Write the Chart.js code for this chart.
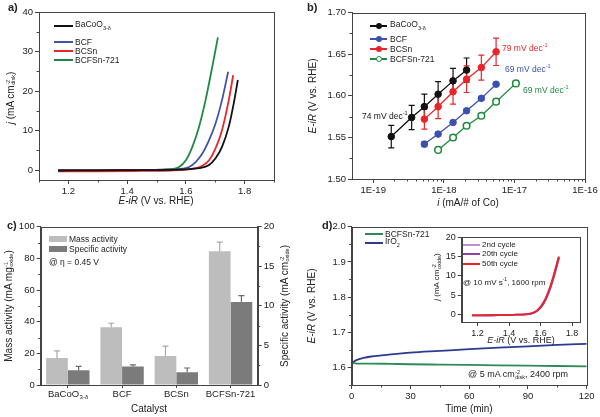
<!DOCTYPE html>
<html>
<head>
<meta charset="utf-8">
<script src="https://cdn.jsdelivr.net/npm/chart.js@4.4.0/dist/chart.umd.min.js"></script>
<style>
body { margin: 0; background: #fff; }
#wrap { position: relative; width: 600px; height: 417px; overflow: hidden; font-family: 'Liberation Sans', Arial, sans-serif; color: #222; }
canvas { position: absolute; }
.t { position: absolute; white-space: nowrap; font-size: 10px; line-height: 1; }
.rot { transform: translate(-50%, -50%) rotate(-90deg); }
.ctr { transform: translate(-50%, -50%); }
.lab { position: absolute; font-weight: bold; font-size: 11px; }
.ss { display: inline-flex; flex-direction: column; font-size: 5.5px; line-height: 0.95; vertical-align: middle; margin-left: 0.5px; }
.leg { position: absolute; font-size: 8.5px; white-space: nowrap; transform: translateY(-50%); line-height: 1; }
.ln { position: absolute; height: 0; border-top: 2px solid; }
.dot { position: absolute; width: 6px; height: 6px; border-radius: 50%; transform: translate(-50%, -50%); box-sizing: border-box; }
.box { position: absolute; }
</style>
</head>
<body>
<div id="wrap">
  <canvas id="ca" width="300" height="208" style="left:0;top:0"></canvas>
  <canvas id="cb" width="300" height="208" style="left:300px;top:0"></canvas>
  <canvas id="cc" width="300" height="209" style="left:0;top:208px"></canvas>
  <canvas id="cd" width="300" height="209" style="left:300px;top:208px"></canvas>
  <canvas id="ci" width="165" height="106" style="left:425px;top:230px"></canvas>

  <!-- panel a -->
  <div class="lab" style="left:8px;top:1px">a)</div>
  <div class="t rot" style="left:11px;top:98px"><i>j</i> (mA cm<span class="ss"><span>-2</span><span>disk</span></span>)</div>
  <div class="t ctr" style="left:156px;top:201px"><i>E-iR</i> (V vs. RHE)</div>
  <div class="ln" style="left:54px;top:25px;width:19px;border-color:#111"></div>
  <div class="leg" style="left:75px;top:26px">BaCoO<sub style="font-size:5.5px">3-δ</sub></div>
  <div class="ln" style="left:54px;top:41px;width:19px;border-color:#4055a8"></div>
  <div class="leg" style="left:75px;top:42px">BCF</div>
  <div class="ln" style="left:54px;top:50px;width:19px;border-color:#e8282b"></div>
  <div class="leg" style="left:75px;top:51px">BCSn</div>
  <div class="ln" style="left:54px;top:59px;width:19px;border-color:#1f8a45"></div>
  <div class="leg" style="left:75px;top:60px">BCFSn-721</div>

  <!-- panel b -->
  <div class="lab" style="left:307px;top:1px">b)</div>
  <div class="t rot" style="left:313px;top:96px"><i>E-iR</i> (V vs. RHE)</div>
  <div class="t ctr" style="left:468px;top:203px"><i>i</i> (mA/# of Co)</div>
  <div class="ln" style="left:370px;top:25px;width:17px;border-color:#111"></div>
  <div class="dot" style="left:378.5px;top:26px;background:#111"></div>
  <div class="leg" style="left:390px;top:26px">BaCoO<sub style="font-size:5.5px">3-δ</sub></div>
  <div class="ln" style="left:370px;top:38px;width:17px;border-color:#3c50b0"></div>
  <div class="dot" style="left:378.5px;top:39px;background:#3c50b0"></div>
  <div class="leg" style="left:390px;top:39.3px">BCF</div>
  <div class="ln" style="left:370px;top:48px;width:17px;border-color:#e8262a"></div>
  <div class="dot" style="left:378.5px;top:49px;background:#e8262a"></div>
  <div class="leg" style="left:390px;top:49.3px">BCSn</div>
  <div class="ln" style="left:370px;top:58px;width:17px;border-color:#1e8a3e"></div>
  <div class="dot" style="left:378.5px;top:59px;background:#fff;border:1.5px solid #1e8a3e"></div>
  <div class="leg" style="left:390px;top:59.3px">BCFSn-721</div>
  <div class="leg" style="left:362px;top:116px;color:#111">74 mV dec<sup style="font-size:5.5px">-1</sup></div>
  <div class="leg" style="left:502px;top:48px;color:#e8262a">79 mV dec<sup style="font-size:5.5px">-1</sup></div>
  <div class="leg" style="left:505px;top:69px;color:#3c50b0">69 mV dec<sup style="font-size:5.5px">-1</sup></div>
  <div class="leg" style="left:523px;top:90px;color:#1e8a3e">69 mV dec<sup style="font-size:5.5px">-1</sup></div>

  <!-- panel c -->
  <div class="lab" style="left:7px;top:219px">c)</div>
  <div class="t rot" style="left:9px;top:306px">Mass activity (mA mg<span class="ss"><span>-1</span><span>oxide</span></span>)</div>
  <div class="t rot" style="left:285px;top:306px">Specific activity (mA cm<span class="ss"><span>-2</span><span>oxide</span></span>)</div>
  <div class="t ctr" style="left:149px;top:409px">Catalyst</div>
  <div class="box" style="left:49px;top:236px;width:18px;height:6px;background:#bdbdbd"></div>
  <div class="leg" style="left:69px;top:239.3px">Mass activity</div>
  <div class="box" style="left:49px;top:246px;width:18px;height:6px;background:#7b7b7b"></div>
  <div class="leg" style="left:69px;top:249px">Specific activity</div>
  <div class="leg" style="left:49px;top:262px">@ η = 0.45 V</div>

  <!-- panel d -->
  <div class="lab" style="left:322px;top:219px">d)</div>
  <div class="t rot" style="left:312px;top:306px"><i>E-iR</i> (V vs. RHE)</div>
  <div class="t ctr" style="left:469px;top:409px">Time (min)</div>
  <div class="ln" style="left:365px;top:233px;width:18px;border-color:#2f8a55"></div>
  <div class="leg" style="left:385px;top:234px">BCFSn-721</div>
  <div class="ln" style="left:365px;top:242px;width:18px;border-color:#2c3a92"></div>
  <div class="leg" style="left:385px;top:243.3px">IrO<sub style="font-size:5.5px">2</sub></div>
  <div class="leg" style="left:468px;top:375px;font-size:9px">@ 5 mA cm<span class="ss"><span>-2</span><span>disk</span></span>, 2400 rpm</div>

  <!-- inset -->
  <div class="t rot" style="left:437px;top:277px;font-size:8px"><i>j</i> (mA cm<span class="ss"><span>-2</span><span>oxide</span></span>)</div>
  <div class="t ctr" style="left:521px;top:340px;font-size:9px"><i>E-iR</i> (V vs. RHE)</div>
  <div class="ln" style="left:463px;top:244px;width:17px;border-color:#c58fcf"></div>
  <div class="leg" style="left:482px;top:245px;font-size:8px">2nd cycle</div>
  <div class="ln" style="left:463px;top:253px;width:17px;border-color:#8b44a8"></div>
  <div class="leg" style="left:482px;top:254.3px;font-size:8px">20th cycle</div>
  <div class="ln" style="left:463px;top:263px;width:17px;border-color:#e8262a"></div>
  <div class="leg" style="left:482px;top:263.7px;font-size:8px">50th cycle</div>
  <div class="leg" style="left:463px;top:281.7px;font-size:8px">@ 10 mV s<sup style="font-size:5px">-1</sup>, 1600 rpm</div>
</div>

<script>
// ---- panel a: LSV curves ----
const aBaE = [1.165, 1.30, 1.45, 1.55, 1.60, 1.645, 1.679, 1.701, 1.723, 1.746, 1.763, 1.777];
const aBaJ = [-0.1, -0.05, 0.0, 0.05, 0.2, 0.5, 1.3, 3.0, 5.9, 11.0, 16.9, 22.8];
const aBcfE = [1.165, 1.30, 1.45, 1.53, 1.565, 1.589, 1.611, 1.634, 1.656, 1.679, 1.701, 1.723, 1.744];
const aBcfJ = [-0.1, -0.05, 0.0, 0.1, 0.2, 0.35, 0.8, 2.1, 4.2, 7.6, 11.8, 17.7, 24.9];
const aBcsnE = [1.165, 1.30, 1.45, 1.55, 1.60, 1.634, 1.656, 1.679, 1.701, 1.723, 1.746, 1.761];
const aBcsnJ = [-0.3, -0.3, -0.2, -0.1, 0.1, 0.5, 1.1, 2.5, 5.5, 10.1, 17.7, 24.0];
const aBcfsnE = [1.165, 1.30, 1.45, 1.52, 1.555, 1.577, 1.600, 1.622, 1.645, 1.667, 1.690, 1.709];
const aBcfsnJ = [0.0, 0.0, 0.05, 0.15, 0.3, 0.8, 2.5, 5.9, 11.0, 17.7, 26.2, 33.6];
const aXTicks = [1.2, 1.4, 1.6, 1.8];
const aXMinor = [1.1, 1.3, 1.5, 1.7, 1.9];
const aYTicks = [0, 10, 20, 30, 40];
const aYMinor = [5, 15, 25, 35];

// ---- panel b: Tafel plots ----
const bBaI = [1.8e-19, 3.5e-19, 5.3e-19, 8.3e-19, 1.35e-18, 2.1e-18];
const bBaE = [1.551, 1.574, 1.587, 1.602, 1.618, 1.631];
const bBaErr = [0.0135, 0.0145, 0.015, 0.015, 0.015, 0.0145];
const bBcfI = [5.3e-19, 8.3e-19, 1.35e-18, 2.1e-18, 3.4e-18, 5.5e-18];
const bBcfE = [1.542, 1.554, 1.568, 1.582, 1.597, 1.614];
const bBcfErr = [0.003, 0.002, 0.002, 0.002, 0.002, 0.002];
const bBcsnI = [5.3e-19, 8.3e-19, 1.35e-18, 2.1e-18, 3.4e-18, 5.5e-18];
const bBcsnE = [1.572, 1.587, 1.605, 1.620, 1.634, 1.653];
const bBcsnErr = [0.012, 0.0145, 0.015, 0.016, 0.015, 0.0165];
const bBcfsnI = [8.3e-19, 1.35e-18, 2.1e-18, 3.4e-18, 5.5e-18, 1.05e-17];
const bBcfsnE = [1.535, 1.550, 1.564, 1.576, 1.593, 1.615];
const bBcfsnErr = [0.001, 0.002, 0.002, 0.002, 0.003, 0.003];
const bXTicks = [1e-19, 1e-18, 1e-17, 1e-16];
const bXMinor = [2e-19, 3e-19, 4e-19, 5e-19, 6e-19, 7e-19, 8e-19, 9e-19,
                 2e-18, 3e-18, 4e-18, 5e-18, 6e-18, 7e-18, 8e-18, 9e-18,
                 2e-17, 3e-17, 4e-17, 5e-17, 6e-17, 7e-17, 8e-17, 9e-17];
const bYTicks = [1.50, 1.55, 1.60, 1.65, 1.70];
const bYMinor = [1.525, 1.575, 1.625, 1.675];

// ---- panel c: activities ----
const cCats = ['BaCoO', 'BCF', 'BCSn', 'BCFSn-721'];
const cCatSubs = ['3-δ', '', '', ''];
const cMass = [17, 36.5, 18.3, 84.5];
const cMassErr = [4.5, 2.5, 6.3, 5.8];
const cSpec = [1.85, 2.35, 1.6, 10.5];
const cSpecErr = [0.5, 0.2, 0.55, 0.8];
const cYTicks = [0, 20, 40, 60, 80, 100];
const cYMinor = [10, 30, 50, 70, 90];
const cY2Ticks = [0, 5, 10, 15, 20];
const cY2Minor = [2.5, 7.5, 12.5, 17.5];

// ---- panel d: chronopotentiometry ----
const dTime = [0, 1, 3, 6, 10, 20, 30, 45, 60, 75, 90, 105, 120];
const dIrO2 = [1.611, 1.616, 1.622, 1.627, 1.631, 1.637, 1.642, 1.647, 1.652, 1.656, 1.660, 1.664, 1.667];
const dBcfsn = [1.612, 1.612, 1.611, 1.611, 1.611, 1.610, 1.609, 1.608, 1.607, 1.606, 1.605, 1.604, 1.603];
const dXTicks = [0, 30, 60, 90, 120];
const dXMinor = [15, 45, 75, 105];
const dYTicks = [1.6, 1.7, 1.8, 1.9, 2.0];
const dYMinor = [1.55, 1.65, 1.75, 1.85, 1.95];

// ---- inset: cycling LSV ----
const iE2 = [1.165, 1.30, 1.45, 1.54, 1.58, 1.62, 1.66, 1.69, 1.717];
const iJ2 = [-0.3, -0.25, -0.1, 0.2, 1.0, 3.0, 6.8, 10.8, 15.0];
const iE20 = [1.165, 1.30, 1.45, 1.54, 1.58, 1.62, 1.66, 1.69, 1.718];
const iJ20 = [-0.3, -0.25, -0.1, 0.2, 0.9, 2.8, 6.5, 10.5, 14.8];
const iE50 = [1.165, 1.30, 1.45, 1.54, 1.58, 1.62, 1.66, 1.69, 1.715];
const iJ50 = [-0.3, -0.25, -0.1, 0.25, 1.1, 3.2, 7.1, 11.2, 15.0];
const iXTicks = [1.2, 1.4, 1.6, 1.8];
const iYTicks = [0, 5, 10, 15, 20];

const FAM = "'Liberation Sans', Arial, sans-serif";
Chart.defaults.font.family = FAM;
Chart.defaults.font.size = 9.5;
Chart.defaults.color = '#222';

const pts = (xs, ys) => xs.map((x, i) => ({ x: x, y: ys[i] }));

// box frame + short minor ticks
function frame(minor) {
  return {
    id: 'frame',
    afterDraw(chart) {
      const ctx = chart.ctx, a = chart.chartArea;
      ctx.save();
      ctx.strokeStyle = '#444';
      ctx.lineWidth = 1;
      ctx.strokeRect(Math.round(a.left) + 0.5, Math.round(a.top) + 0.5,
        Math.round(a.right - a.left), Math.round(a.bottom - a.top));
      minor.forEach(m => {
        const s = chart.scales[m.id];
        m.values.forEach(v => {
          const p = Math.round(s.getPixelForValue(v)) + 0.5;
          ctx.beginPath();
          if (s.position === 'bottom') { ctx.moveTo(p, a.bottom); ctx.lineTo(p, a.bottom + 2.5); }
          else if (s.position === 'left') { ctx.moveTo(a.left, p); ctx.lineTo(a.left - 2.5, p); }
          else { ctx.moveTo(a.right, p); ctx.lineTo(a.right + 2.5, p); }
          ctx.stroke();
        });
      });
      ctx.restore();
    }
  };
}

// error bars from the named error arrays
function errorBars(sets, cap, upOnly, hook) {
  const p = { id: 'errbars' };
  p[hook] = function (chart) {
    const ctx = chart.ctx;
    sets.forEach(st => {
      const meta = chart.getDatasetMeta(st.index);
      const ys = chart.scales[meta.yAxisID];
      const ds = chart.data.datasets[st.index].data;
      ctx.save();
      ctx.strokeStyle = st.color;
      ctx.lineWidth = 1.2;
      meta.data.forEach((el, i) => {
        const v = typeof ds[i] === 'object' ? ds[i].y : ds[i];
        const top = ys.getPixelForValue(v + st.errs[i]);
        const bot = ys.getPixelForValue(upOnly ? v : v - st.errs[i]);
        ctx.beginPath();
        ctx.moveTo(el.x, top); ctx.lineTo(el.x, bot);
        ctx.moveTo(el.x - cap, top); ctx.lineTo(el.x + cap, top);
        if (!upOnly) { ctx.moveTo(el.x - cap, bot); ctx.lineTo(el.x + cap, bot); }
        ctx.stroke();
      });
      ctx.restore();
    });
  };
  return p;
}

// category labels with a subscript part (BaCoO3-δ)
const catLabels = {
  id: 'catLabels',
  afterDraw(chart) {
    const s = chart.scales.x, ctx = chart.ctx;
    const y = chart.chartArea.bottom + 9;
    ctx.save();
    ctx.fillStyle = '#222';
    ctx.textBaseline = 'middle';
    ctx.textAlign = 'left';
    cCats.forEach((c, i) => {
      const x = s.getPixelForTick(i);
      ctx.font = '9.5px ' + FAM;
      const w1 = ctx.measureText(c).width;
      ctx.font = '6px ' + FAM;
      const w2 = cCatSubs[i] ? ctx.measureText(cCatSubs[i]).width : 0;
      const x0 = x - (w1 + w2) / 2;
      ctx.font = '9.5px ' + FAM;
      ctx.fillText(c, x0, y);
      if (cCatSubs[i]) { ctx.font = '6px ' + FAM; ctx.fillText(cCatSubs[i], x0 + w1 + 0.5, y + 3); }
    });
    ctx.restore();
  }
};

function axis(type, pos, min, max, majors, size, fmt, fontSize) {
  return {
    type: type, position: pos, min: min, max: max,
    afterBuildTicks: s => { s.ticks = majors.map(v => ({ value: v })); },
    afterFit: s => { if (pos === 'bottom') s.height = size; else s.width = size; },
    ticks: { callback: fmt, padding: 2, autoSkip: false, maxRotation: 0, font: { size: fontSize || 9.5 }, color: '#222' },
    grid: { drawOnChartArea: false, drawTicks: true, tickLength: 4, color: '#444' },
    border: { display: true, color: '#444' }
  };
}

const base = {
  responsive: false,
  animation: false,
  devicePixelRatio: 1,
  plugins: { legend: { display: false }, tooltip: { enabled: false } },
  elements: { point: { radius: 0 }, line: { borderWidth: 1.8 } }
};

const f1 = v => v.toFixed(1);
const f2 = v => v.toFixed(2);
const f0 = v => String(Math.round(v));

// panel a
new Chart(document.getElementById('ca'), {
  type: 'line',
  data: {
    datasets: [
      { data: pts(aBaE, aBaJ), borderColor: '#111', cubicInterpolationMode: 'monotone' },
      { data: pts(aBcsnE, aBcsnJ), borderColor: '#e8282b', cubicInterpolationMode: 'monotone' },
      { data: pts(aBcfE, aBcfJ), borderColor: '#4055a8', cubicInterpolationMode: 'monotone' },
      { data: pts(aBcfsnE, aBcfsnJ), borderColor: '#1f8a45', cubicInterpolationMode: 'monotone' }
    ]
  },
  options: Object.assign({}, base, {
    layout: { padding: { left: 0, top: 12, right: 26, bottom: 0 } },
    scales: {
      x: axis('linear', 'bottom', 1.1, 1.9, aXTicks, 28, f1),
      y: axis('linear', 'left', -2.5, 40, aYTicks, 39, f0)
    }
  }),
  plugins: [frame([{ id: 'x', values: aXMinor }, { id: 'y', values: aYMinor }])]
});

// panel b
const bColors = ['#111', '#3c50b0', '#e8262a', '#1e8a3e'];
new Chart(document.getElementById('cb'), {
  type: 'line',
  data: {
    datasets: [
      { data: pts(bBaI, bBaE), borderColor: bColors[0], pointBackgroundColor: bColors[0], pointBorderColor: bColors[0] },
      { data: pts(bBcfI, bBcfE), borderColor: bColors[1], pointBackgroundColor: bColors[1], pointBorderColor: bColors[1] },
      { data: pts(bBcsnI, bBcsnE), borderColor: bColors[2], pointBackgroundColor: bColors[2], pointBorderColor: bColors[2] },
      { data: pts(bBcfsnI, bBcfsnE), borderColor: bColors[3], pointBackgroundColor: '#fff', pointBorderColor: bColors[3], pointBorderWidth: 1.5 }
    ]
  },
  options: Object.assign({}, base, {
    elements: { point: { radius: 3.3, borderWidth: 1 }, line: { borderWidth: 1.3, tension: 0 } },
    layout: { padding: { left: 0, top: 12.7, right: 15, bottom: 0 } },
    scales: {
      x: axis('logarithmic', 'bottom', 5e-20, 1e-16, bXTicks, 29, v => '1E' + Math.round(Math.log10(v))),
      y: axis('linear', 'left', 1.50, 1.70, bYTicks, 52, f2)
    }
  }),
  plugins: [
    frame([{ id: 'y', values: bYMinor }, { id: 'x', values: bXMinor }]),
    errorBars([
      { index: 0, errs: bBaErr, color: bColors[0] },
      { index: 1, errs: bBcfErr, color: bColors[1] },
      { index: 2, errs: bBcsnErr, color: bColors[2] },
      { index: 3, errs: bBcfsnErr, color: bColors[3] }
    ], 3, false, 'beforeDatasetsDraw')
  ]
});

// panel c
const cx = {
  type: 'category', position: 'bottom', offset: true,
  afterFit: s => { s.height = 32; },
  ticks: { display: false },
  grid: { drawOnChartArea: false, drawTicks: true, tickLength: 3, color: '#444', offset: false },
  border: { display: true, color: '#444' }
};
new Chart(document.getElementById('cc'), {
  type: 'bar',
  data: {
    labels: cCats,
    datasets: [
      { label: 'Mass activity', data: cMass, backgroundColor: '#bdbdbd', yAxisID: 'y', categoryPercentage: 0.8, barPercentage: 1.0 },
      { label: 'Specific activity', data: cSpec, backgroundColor: '#7b7b7b', yAxisID: 'y2', categoryPercentage: 0.8, barPercentage: 1.0 }
    ]
  },
  options: Object.assign({}, base, {
    layout: { padding: { left: 0, top: 18.7, right: 0, bottom: 0 } },
    scales: {
      x: cx,
      y: axis('linear', 'left', 0, 100, cYTicks, 40.7, f0),
      y2: axis('linear', 'right', 0, 20, cY2Ticks, 42.3, f0)
    }
  }),
  plugins: [
    frame([{ id: 'y', values: cYMinor }, { id: 'y2', values: cY2Minor }]),
    errorBars([
      { index: 0, errs: cMassErr, color: '#a9a9a9' },
      { index: 1, errs: cSpecErr, color: '#6a6a6a' }
    ], 3, true, 'afterDatasetsDraw'),
    catLabels
  ]
});

// panel d
new Chart(document.getElementById('cd'), {
  type: 'line',
  data: {
    datasets: [
      { data: pts(dTime, dBcfsn), borderColor: '#2f8a55', cubicInterpolationMode: 'monotone' },
      { data: pts(dTime, dIrO2), borderColor: '#2c3a92', cubicInterpolationMode: 'monotone' }
    ]
  },
  options: Object.assign({}, base, {
    layout: { padding: { left: 0, top: 18.7, right: 13.3, bottom: 0 } },
    scales: {
      x: axis('linear', 'bottom', 0, 120, dXTicks, 32, f0),
      y: axis('linear', 'left', 1.55, 2.0, dYTicks, 51.7, f1)
    }
  }),
  plugins: [frame([{ id: 'x', values: dXMinor }, { id: 'y', values: dYMinor }])]
});

// inset
new Chart(document.getElementById('ci'), {
  type: 'line',
  data: {
    datasets: [
      { data: pts(iE50, iJ50), borderColor: '#e8262a', cubicInterpolationMode: 'monotone', order: 0 },
      { data: pts(iE20, iJ20), borderColor: '#8b44a8', cubicInterpolationMode: 'monotone', order: 1 },
      { data: pts(iE2, iJ2), borderColor: '#c58fcf', cubicInterpolationMode: 'monotone', order: 2 }
    ]
  },
  options: Object.assign({}, base, {
    layout: { padding: { left: 0, top: 6.7, right: 10, bottom: 0 } },
    scales: {
      x: axis('linear', 'bottom', 1.1, 1.85, iXTicks, 14, f1, 9),
      y: axis('linear', 'left', -2, 20, iYTicks, 36.7, f0, 9)
    }
  }),
  plugins: [frame([])]
});
</script>
</body>
</html>
